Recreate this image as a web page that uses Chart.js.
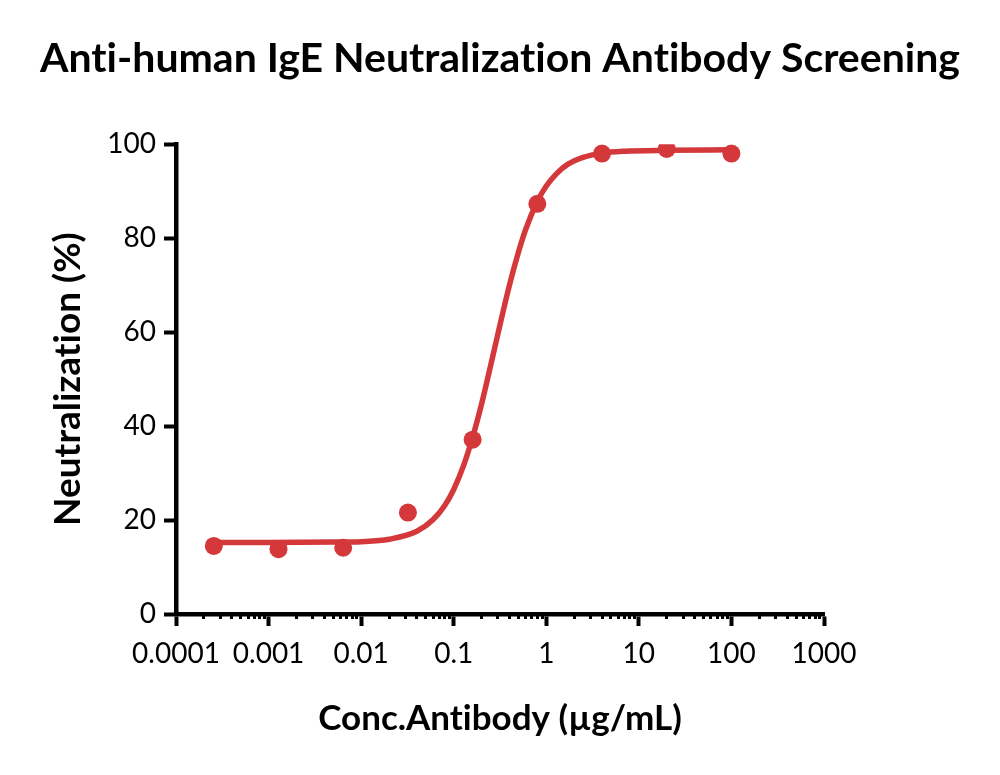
<!DOCTYPE html>
<html>
<head>
<meta charset="utf-8">
<script src="https://cdn.jsdelivr.net/npm/chart.js@4.4.1/dist/chart.umd.min.js"></script>
<style>
  html, body { margin: 0; padding: 0; background: #fff; }
  #wrap { width: 1000px; height: 775px; }
</style>
</head>
<body>
<div id="wrap"><canvas id="chart" width="1000" height="775"></canvas></div>
<script>
// measured points (5-fold dilution series)
const concentrations = [0.000256, 0.00128, 0.0064, 0.032, 0.16, 0.8, 4, 20, 100];
const neutralization = [14.5, 13.8, 14.1, 21.6, 37.1, 87.3, 98.0, 99.0, 98.0];

// fitted curve
const fitConc = [0.000256, 0.001, 0.005, 0.01, 0.02, 0.04, 0.06, 0.08, 0.1, 0.13, 0.16,
  0.2, 0.25, 0.3, 0.4, 0.5, 0.6, 0.8, 1, 1.3, 1.7, 2.5, 4, 7, 20, 100];
const fitNeutralization = [15.2, 15.2, 15.3, 15.4, 15.9, 17.6, 20.1, 23.1, 26.5, 32.0, 37.6,
  44.7, 52.8, 59.6, 70.0, 77.0, 81.9, 87.8, 91.1, 93.8, 95.7, 97.2, 98.1, 98.5, 98.7, 98.8];

const xTickValues = [0.0001, 0.001, 0.01, 0.1, 1, 10, 100, 1000];
const xTickLabels = ['0.0001', '0.001', '0.01', '0.1', '1', '10', '100', '1000'];
const yTickValues = [0, 20, 40, 60, 80, 100];

const RED = '#d4383b';
const FONT = 'Lato, "Open Sans", sans-serif';

const minorTicks = [];
xTickValues.slice(0, -1).forEach(d => {
  for (let m = 2; m <= 9; m++) minorTicks.push({ value: d * m });
});

// no "ti" ligatures, closer to the original font
const plainText = {
  id: 'plainText',
  beforeDraw: chart => { chart.ctx.textRendering = 'optimizeSpeed'; }
};

new Chart(document.getElementById('chart'), {
  type: 'scatter',
  data: {
    datasets: [
      {
        label: 'fit',
        data: fitConc.map((x, i) => ({ x, y: fitNeutralization[i] })),
        showLine: true,
        borderColor: RED,
        borderWidth: 5.5,
        pointRadius: 0,
        cubicInterpolationMode: 'monotone',
        xAxisID: 'x'
      },
      {
        label: 'data',
        data: concentrations.map((x, i) => ({ x, y: neutralization[i] })),
        backgroundColor: RED,
        borderColor: RED,
        pointRadius: 9,
        pointBorderWidth: 0,
        xAxisID: 'x'
      }
    ]
  },
  options: {
    responsive: false,
    devicePixelRatio: 1,
    animation: false,
    layout: { padding: 0 },
    plugins: {
      legend: { display: false },
      tooltip: { enabled: false },
      title: {
        display: true,
        text: 'Anti-human IgE Neutralization Antibody Screening',
        color: '#000',
        font: { family: FONT, size: 41, weight: 'bold', lineHeight: 1.2 },
        padding: { top: 34, bottom: 61 }
      }
    },
    scales: {
      x: {
        type: 'logarithmic',
        position: 'bottom',
        weight: 1,
        min: 0.0001,
        max: 1000,
        afterBuildTicks: s => { s.ticks = xTickValues.map(v => ({ value: v })); },
        afterFit: s => { s.height = 161; },
        ticks: {
          autoSkip: false,
          maxRotation: 0,
          color: '#000',
          padding: 11,
          font: { family: FONT, size: 28 },
          callback: (v, i) => xTickLabels[i]
        },
        grid: { drawOnChartArea: false, drawTicks: true, tickLength: 12, tickWidth: 4, tickColor: '#000' },
        border: { display: true, color: '#000', width: 4.5 },
        title: {
          display: true,
          text: 'Conc.Antibody (µg/mL)',
          color: '#000',
          font: { family: FONT, size: 35, weight: 'bold', lineHeight: 1.2 },
          padding: { top: 0, bottom: 35 }
        }
      },
      xMinor: {
        type: 'logarithmic',
        position: 'bottom',
        weight: 0,
        min: 0.0001,
        max: 1000,
        afterBuildTicks: s => { s.ticks = minorTicks.slice(); },
        afterFit: s => { s.height = 0; },
        ticks: { display: false },
        grid: { drawOnChartArea: false, drawTicks: true, tickLength: 5, tickWidth: 3, tickColor: '#000' },
        border: { display: false }
      },
      y: {
        type: 'linear',
        position: 'left',
        min: 0,
        max: 100,
        afterBuildTicks: s => { s.ticks = yTickValues.map(v => ({ value: v })); },
        afterFit: s => { s.width = 176; },
        ticks: {
          color: '#000',
          padding: 8,
          font: { family: FONT, size: 28 }
        },
        grid: { drawOnChartArea: false, drawTicks: true, tickLength: 12, tickWidth: 4, tickColor: '#000' },
        border: { display: true, color: '#000', width: 4.5 },
        title: {
          display: true,
          text: 'Neutralization (%)',
          color: '#000',
          font: { family: FONT, size: 37, weight: 'bold', lineHeight: 1.2 },
          padding: { top: 46, bottom: 0 }
        }
      },
      // empty right margin so the title centres on the page
      yRight: {
        type: 'linear',
        position: 'right',
        min: 0,
        max: 100,
        afterFit: s => { s.width = 176; },
        ticks: { display: false },
        grid: { display: false },
        border: { display: false }
      }
    }
  },
  plugins: [plainText]
});
</script>
</body>
</html>
